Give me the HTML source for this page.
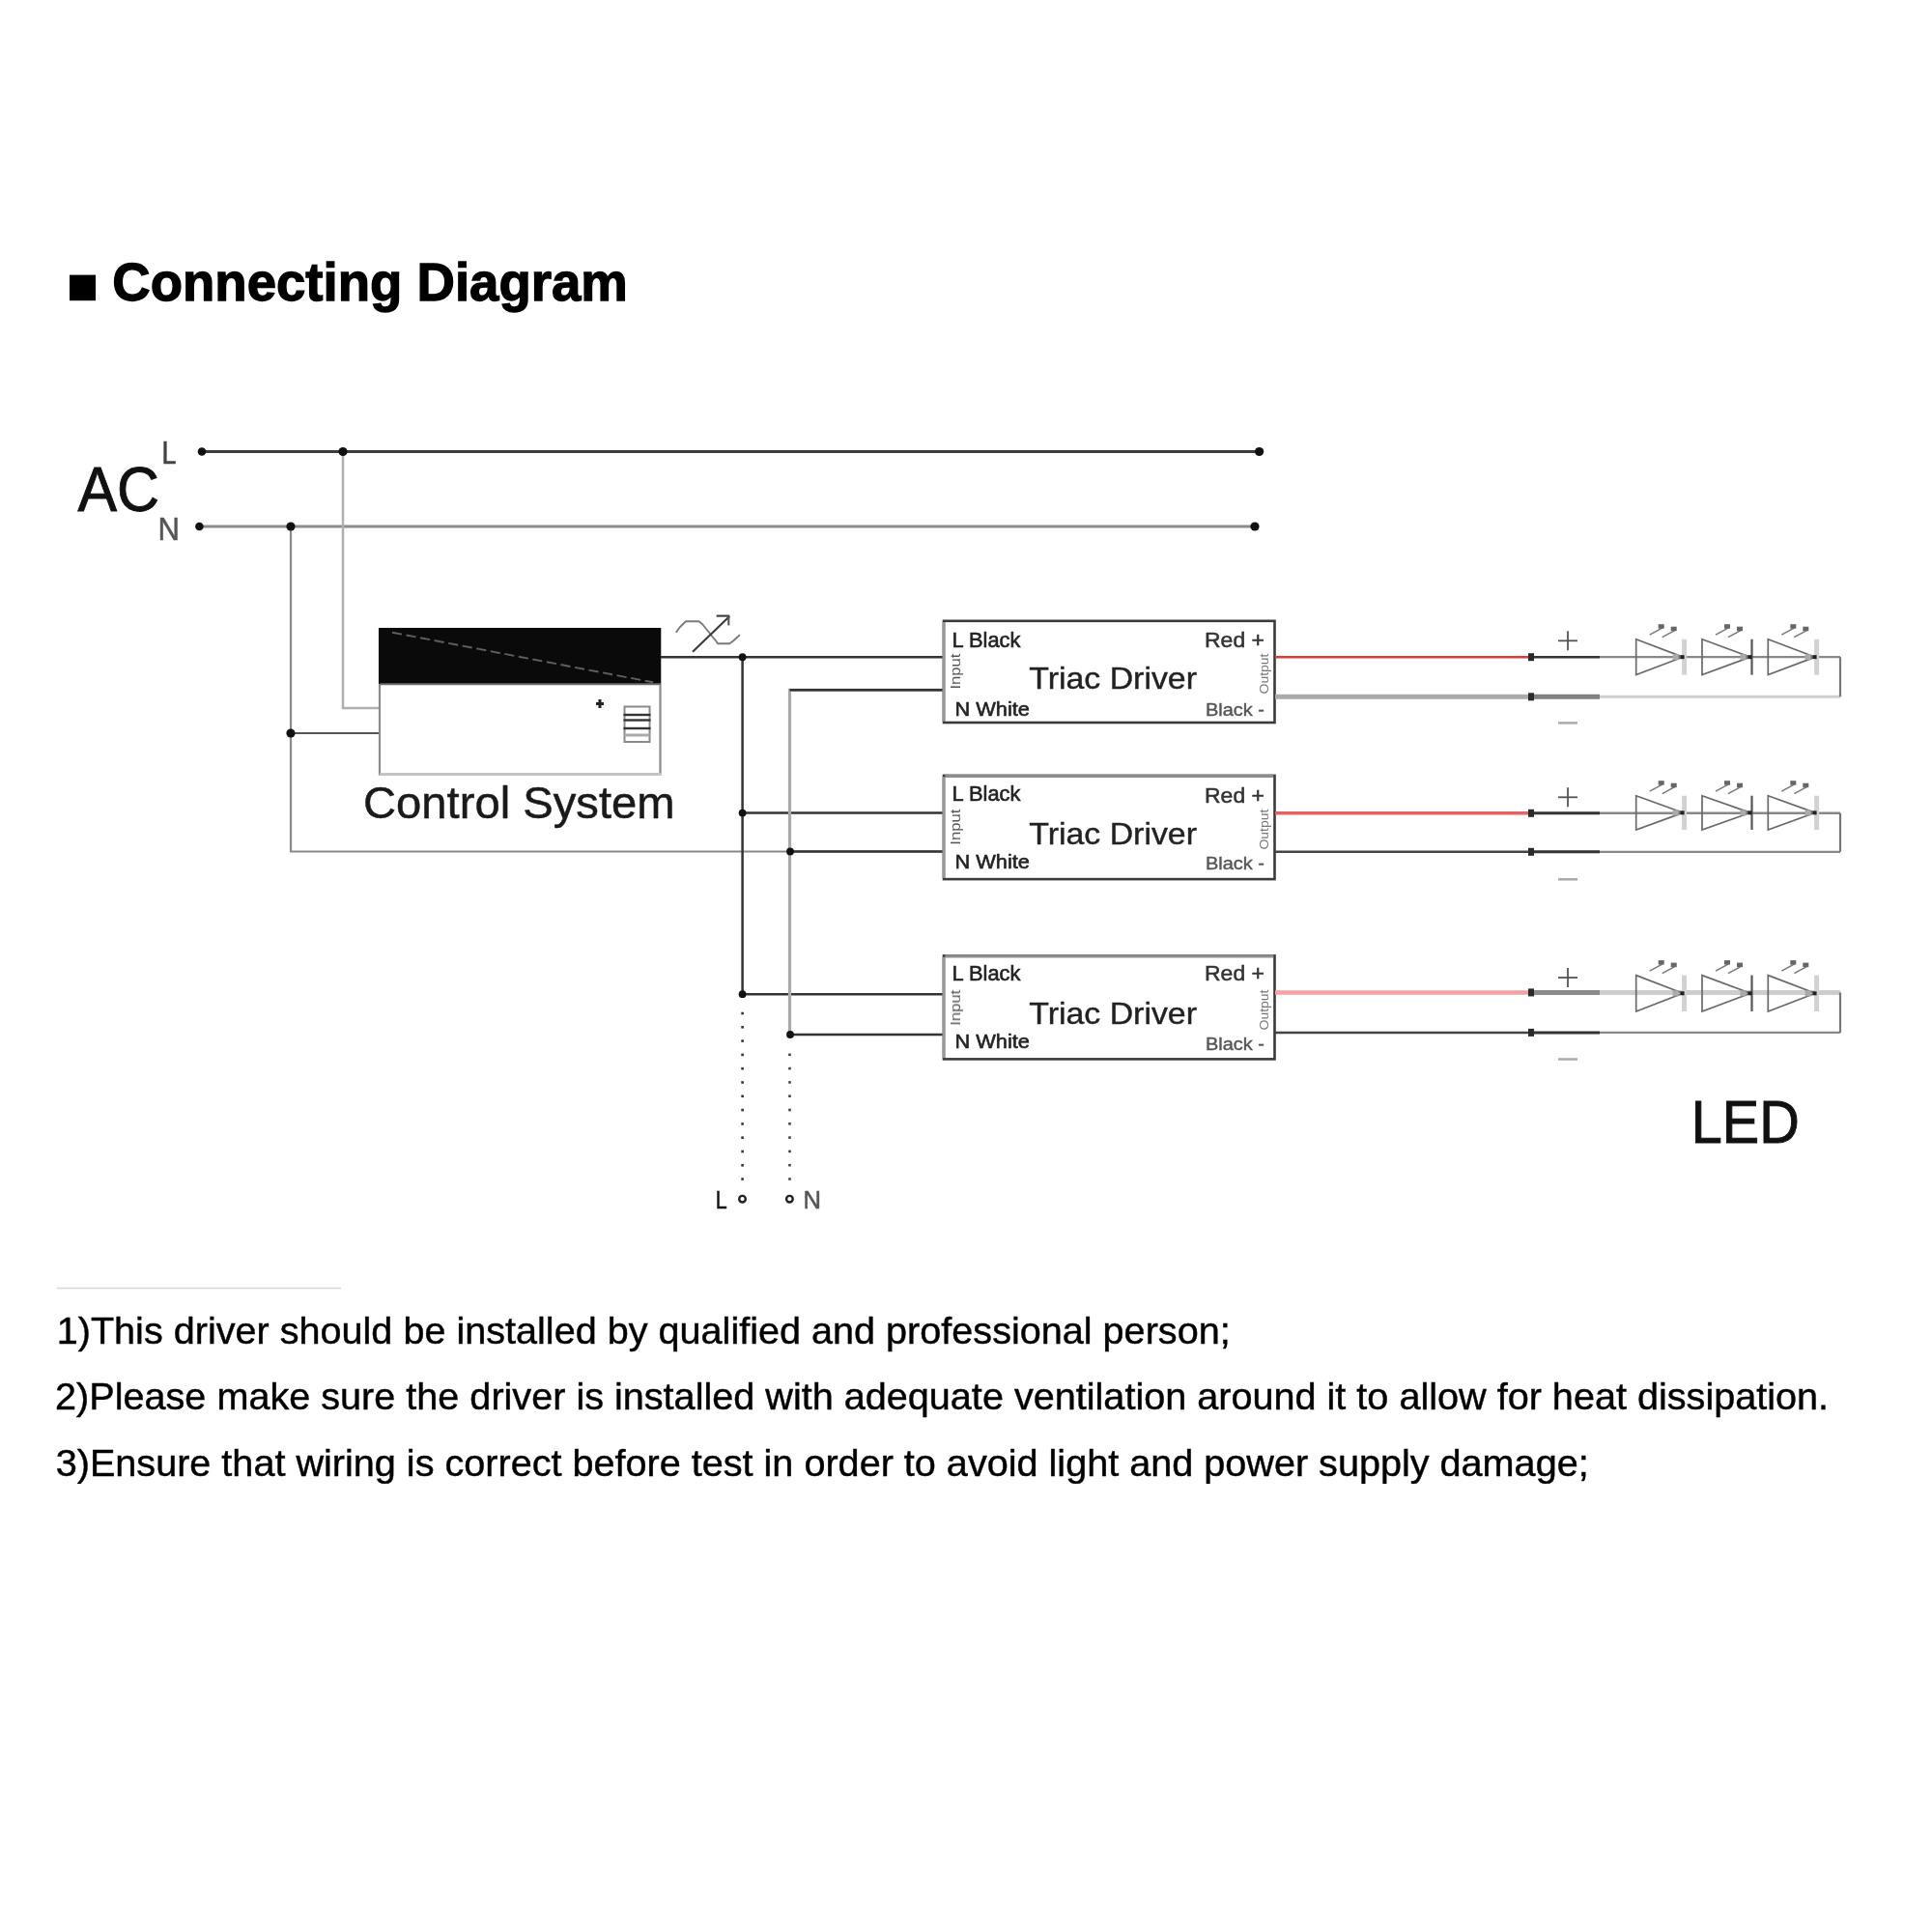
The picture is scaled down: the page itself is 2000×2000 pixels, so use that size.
<!DOCTYPE html>
<html><head><meta charset="utf-8"><style>
html,body{margin:0;padding:0;background:#fff;width:2000px;height:2000px;overflow:hidden}
svg{position:absolute;left:0;top:0;will-change:transform}
text{font-family:"Liberation Sans", sans-serif}
.t{position:absolute;left:0;top:0;white-space:nowrap;font-family:"Liberation Sans", sans-serif;color:#000}
</style></head><body>
<svg width="2000" height="2000" viewBox="0 0 2000 2000">
<rect x="72" y="284.6" width="27" height="26.6" fill="#000"/>
<text x="116.3" y="311" font-size="55.5" font-weight="bold" fill="#000" stroke="#000" stroke-width="1.3" textLength="533.5" lengthAdjust="spacingAndGlyphs">Connecting Diagram</text>
<line x1="209" y1="467.5" x2="1303.6" y2="467.5" stroke="#3c3c3c" stroke-width="3" />
<line x1="206" y1="545" x2="1299" y2="545" stroke="#8c8c8c" stroke-width="3" />
<text x="80.5" y="529" font-size="64.5" fill="#111" text-anchor="start" font-weight="normal" textLength="84.5" lengthAdjust="spacingAndGlyphs" stroke="#111" stroke-width="0.9">AC</text>
<text x="167.5" y="480" font-size="33.5" fill="#444" text-anchor="start" font-weight="normal" textLength="15" lengthAdjust="spacingAndGlyphs" stroke="#444" stroke-width="0.6">L</text>
<text x="163.5" y="559" font-size="32.5" fill="#555" text-anchor="start" font-weight="normal" textLength="22.5" lengthAdjust="spacingAndGlyphs" stroke="#555" stroke-width="0.5">N</text>
<polyline points="355,467 355,733 392.5,733" fill="none" stroke="#b0b0b0" stroke-width="2.5"/>
<polyline points="301,545 301,881.5 976,881.5" fill="none" stroke="#8a8a8a" stroke-width="2.2"/>
<line x1="301" y1="759" x2="392.5" y2="759" stroke="#555" stroke-width="2.2" />
<rect x="393" y="651" width="290.5" height="150.5" fill="#fff" stroke="#8a8a8a" stroke-width="2.2"/>
<rect x="392" y="650" width="292" height="58" fill="#0a0a0a"/>
<line x1="406" y1="654.7" x2="676" y2="706.3" stroke="#606060" stroke-width="1.9" stroke-dasharray="10.2 4.6"/>
<line x1="393" y1="708.3" x2="684" y2="708.3" stroke="#6e6e6e" stroke-width="2" />
<line x1="393" y1="801.5" x2="684" y2="801.5" stroke="#c4c4c4" stroke-width="3" />
<path d="M617,728.5 L625,728.5 M621,724 L621,733" stroke="#222" stroke-width="3"/>
<rect x="646.5" y="731.5" width="26" height="36.5" fill="none" stroke="#8a8a8a" stroke-width="2"/>
<line x1="645.5" y1="740" x2="673.5" y2="740" stroke="#333" stroke-width="2.4" />
<line x1="645.5" y1="745.5" x2="673.5" y2="745.5" stroke="#333" stroke-width="2.4" />
<line x1="645.5" y1="754" x2="673.5" y2="754" stroke="#333" stroke-width="2.4" />
<line x1="646.5" y1="761" x2="672.5" y2="761" stroke="#aaa" stroke-width="3" />
<text x="376" y="847" font-size="46.5" fill="#1a1a1a" text-anchor="start" font-weight="normal" textLength="322.6" lengthAdjust="spacingAndGlyphs" stroke="#1a1a1a" stroke-width="0.5">Control System</text>
<path d="M699.8,654.8 L704,649 L710,643.3 L723.5,643.3 L727,646 L741.5,664 L743,666.2 L755.2,666.2 L759,663.5 L765.9,657.1" fill="none" stroke="#7a7a7a" stroke-width="1.9" stroke-linejoin="round"/>
<line x1="717" y1="674.8" x2="755.2" y2="638" stroke="#3a3a3a" stroke-width="2.1" />
<line x1="741.7" y1="637.6" x2="755.2" y2="637.6" stroke="#3a3a3a" stroke-width="2.1" />
<line x1="754.3" y1="637.6" x2="754.3" y2="647.4" stroke="#555" stroke-width="2.1" />
<line x1="683.8" y1="680.2" x2="976" y2="680.2" stroke="#333" stroke-width="2.5" />
<line x1="768.6" y1="680.2" x2="768.6" y2="1029.2" stroke="#333" stroke-width="2.5" />
<line x1="768.6" y1="841.6" x2="976" y2="841.6" stroke="#333" stroke-width="2.5" />
<line x1="768.6" y1="1029.2" x2="976" y2="1029.2" stroke="#333" stroke-width="2.5" />
<polyline points="976,714.3 817.5,714.3 817.5,1071" fill="none" stroke="#aaa" stroke-width="3.2"/>
<line x1="817.5" y1="714.3" x2="976" y2="714.3" stroke="#333" stroke-width="2.5" />
<line x1="818" y1="881.5" x2="976" y2="881.5" stroke="#333" stroke-width="2.5" />
<line x1="818" y1="1071" x2="976" y2="1071" stroke="#333" stroke-width="2.5" />
<rect x="767.3" y="1047.7" width="2.6" height="2.6" fill="#333"/>
<rect x="767.3" y="1062.0" width="2.6" height="2.6" fill="#333"/>
<rect x="767.3" y="1076.3" width="2.6" height="2.6" fill="#333"/>
<rect x="767.3" y="1090.6" width="2.6" height="2.6" fill="#333"/>
<rect x="767.3" y="1104.9" width="2.6" height="2.6" fill="#333"/>
<rect x="767.3" y="1119.2" width="2.6" height="2.6" fill="#333"/>
<rect x="767.3" y="1133.5" width="2.6" height="2.6" fill="#333"/>
<rect x="767.3" y="1147.8" width="2.6" height="2.6" fill="#333"/>
<rect x="767.3" y="1162.1" width="2.6" height="2.6" fill="#333"/>
<rect x="767.3" y="1176.4" width="2.6" height="2.6" fill="#333"/>
<rect x="767.3" y="1190.7" width="2.6" height="2.6" fill="#333"/>
<rect x="767.3" y="1205.0" width="2.6" height="2.6" fill="#333"/>
<rect x="767.3" y="1219.3" width="2.6" height="2.6" fill="#333"/>
<rect x="816.2" y="1090.5" width="2.6" height="2.6" fill="#444"/>
<rect x="816.2" y="1104.8" width="2.6" height="2.6" fill="#444"/>
<rect x="816.2" y="1119.1" width="2.6" height="2.6" fill="#444"/>
<rect x="816.2" y="1133.4" width="2.6" height="2.6" fill="#444"/>
<rect x="816.2" y="1147.7" width="2.6" height="2.6" fill="#444"/>
<rect x="816.2" y="1162.0" width="2.6" height="2.6" fill="#444"/>
<rect x="816.2" y="1176.3" width="2.6" height="2.6" fill="#444"/>
<rect x="816.2" y="1190.6" width="2.6" height="2.6" fill="#444"/>
<rect x="816.2" y="1204.9" width="2.6" height="2.6" fill="#444"/>
<rect x="816.2" y="1219.2" width="2.6" height="2.6" fill="#444"/>
<circle cx="768.5" cy="1241.2" r="3.3" fill="none" stroke="#222" stroke-width="2.4"/>
<circle cx="817.4" cy="1241.2" r="3.3" fill="none" stroke="#222" stroke-width="2.4"/>
<text x="740.8" y="1251.3" font-size="25.5" fill="#111" text-anchor="start" font-weight="normal" textLength="12" lengthAdjust="spacingAndGlyphs" stroke="#111" stroke-width="0.5">L</text>
<text x="831.5" y="1251.3" font-size="25.5" fill="#555" text-anchor="start" font-weight="normal" textLength="18.5" lengthAdjust="spacingAndGlyphs" stroke="#555" stroke-width="0.5">N</text>
<rect x="977" y="642.8" width="342.5" height="105.2" fill="#fff" stroke="#3a3a3a" stroke-width="2.6"/>
<line x1="977" y1="644.0999999999999" x2="977" y2="746.7" stroke="#999" stroke-width="3" />
<text x="985.6" y="670.3" font-size="22" fill="#222" text-anchor="start" font-weight="normal" textLength="70.8" lengthAdjust="spacingAndGlyphs" stroke="#222" stroke-width="0.6">L Black</text>
<text x="1247" y="670.3" font-size="22" fill="#333" text-anchor="start" font-weight="normal" textLength="62" lengthAdjust="spacingAndGlyphs" stroke="#333" stroke-width="0.5">Red +</text>
<text x="1065.2" y="712.6" font-size="31.5" fill="#222" text-anchor="start" font-weight="normal" textLength="173.8" lengthAdjust="spacingAndGlyphs" stroke="#222" stroke-width="0.4">Triac Driver</text>
<text x="988.5" y="741.0" font-size="21" fill="#222" text-anchor="start" font-weight="normal" textLength="77.5" lengthAdjust="spacingAndGlyphs" stroke="#222" stroke-width="0.6">N White</text>
<text x="1248" y="741.0" font-size="19" fill="#555" text-anchor="start" font-weight="normal" textLength="61" lengthAdjust="spacingAndGlyphs" stroke="#555" stroke-width="0.4">Black -</text>
<text x="0" y="0" font-size="15" fill="#555" transform="translate(994,713.6) rotate(-90)" textLength="37" lengthAdjust="spacingAndGlyphs">Input</text>
<text x="0" y="0" font-size="12" fill="#777" transform="translate(1312.5,718.5) rotate(-90)" textLength="42" lengthAdjust="spacingAndGlyphs">Output</text>
<line x1="1320" y1="680.2" x2="1584" y2="680.2" stroke="#de3a3a" stroke-width="2.6" />
<line x1="1584" y1="680.2" x2="1656" y2="680.2" stroke="#333" stroke-width="2.5" />
<line x1="1656" y1="680.2" x2="1905" y2="680.2" stroke="#888" stroke-width="2.2" />
<line x1="1320" y1="721.3" x2="1584" y2="721.3" stroke="#ababab" stroke-width="5.0" />
<line x1="1584" y1="721.3" x2="1656" y2="721.3" stroke="#808080" stroke-width="5" />
<line x1="1656" y1="721.3" x2="1905" y2="721.3" stroke="#cfcfcf" stroke-width="3.0" />
<line x1="1905" y1="680.2" x2="1905" y2="721.3" stroke="#777" stroke-width="2.2" />
<line x1="1613" y1="663.3" x2="1633" y2="663.3" stroke="#555" stroke-width="1.8" />
<line x1="1623" y1="653.3" x2="1623" y2="673.3" stroke="#555" stroke-width="1.8" />
<line x1="1613" y1="748.4" x2="1633" y2="748.4" stroke="#aaa" stroke-width="2.5" />
<polygon points="1693.7,661.7 1742.1,680.1500000000001 1693.7,698.6" fill="none" stroke="#6a6a6a" stroke-width="1.7"/>
<line x1="1743.6" y1="661.7" x2="1743.6" y2="698.6" stroke="#d2d2d2" stroke-width="5" />
<rect x="1731.6" y="677.1500000000001" width="6" height="6" fill="#aaa"/>
<rect x="1739.6" y="678.1500000000001" width="4" height="4" fill="#222"/>
<line x1="1707.7" y1="657.2" x2="1720.7" y2="650.2" stroke="#777" stroke-width="1.5" />
<line x1="1720.7" y1="659.7" x2="1733.7" y2="652.7" stroke="#777" stroke-width="1.5" />
<rect x="1716.7" y="646.2" width="6" height="4.5" fill="#666"/>
<rect x="1729.7" y="648.7" width="6" height="4.5" fill="#666"/>
<polygon points="1762,661.7 1812.0,680.1500000000001 1762,698.6" fill="none" stroke="#6a6a6a" stroke-width="1.7"/>
<line x1="1813.5" y1="661.7" x2="1813.5" y2="698.6" stroke="#555" stroke-width="2.2" />
<rect x="1801.5" y="677.1500000000001" width="6" height="6" fill="#aaa"/>
<rect x="1809.5" y="678.1500000000001" width="4" height="4" fill="#222"/>
<line x1="1776" y1="657.2" x2="1789" y2="650.2" stroke="#777" stroke-width="1.5" />
<line x1="1789" y1="659.7" x2="1802" y2="652.7" stroke="#777" stroke-width="1.5" />
<rect x="1785" y="646.2" width="6" height="4.5" fill="#666"/>
<rect x="1798" y="648.7" width="6" height="4.5" fill="#666"/>
<polygon points="1830.3,661.7 1879.1,680.1500000000001 1830.3,698.6" fill="none" stroke="#6a6a6a" stroke-width="1.7"/>
<line x1="1880.6" y1="661.7" x2="1880.6" y2="698.6" stroke="#d2d2d2" stroke-width="5" />
<rect x="1868.6" y="677.1500000000001" width="6" height="6" fill="#aaa"/>
<rect x="1876.6" y="678.1500000000001" width="4" height="4" fill="#222"/>
<line x1="1844.3" y1="657.2" x2="1857.3" y2="650.2" stroke="#777" stroke-width="1.5" />
<line x1="1857.3" y1="659.7" x2="1870.3" y2="652.7" stroke="#777" stroke-width="1.5" />
<rect x="1853.3" y="646.2" width="6" height="4.5" fill="#666"/>
<rect x="1866.3" y="648.7" width="6" height="4.5" fill="#666"/>
<rect x="977" y="802.9" width="342.5" height="107.2" fill="#fff" stroke="#3a3a3a" stroke-width="2.6"/>
<line x1="977" y1="804.1999999999999" x2="977" y2="908.8000000000001" stroke="#999" stroke-width="3" />
<line x1="978.3" y1="803.4" x2="1318.3" y2="803.4" stroke="#8e8e8e" stroke-width="3.2" />
<text x="985.6" y="829.4" font-size="22" fill="#222" text-anchor="start" font-weight="normal" textLength="70.8" lengthAdjust="spacingAndGlyphs" stroke="#222" stroke-width="0.6">L Black</text>
<text x="1247" y="831.4" font-size="22" fill="#333" text-anchor="start" font-weight="normal" textLength="62" lengthAdjust="spacingAndGlyphs" stroke="#333" stroke-width="0.5">Red +</text>
<text x="1065.2" y="873.7" font-size="31.5" fill="#222" text-anchor="start" font-weight="normal" textLength="173.8" lengthAdjust="spacingAndGlyphs" stroke="#222" stroke-width="0.4">Triac Driver</text>
<text x="988.5" y="899.2" font-size="21" fill="#222" text-anchor="start" font-weight="normal" textLength="77.5" lengthAdjust="spacingAndGlyphs" stroke="#222" stroke-width="0.6">N White</text>
<text x="1248" y="900.2" font-size="19" fill="#555" text-anchor="start" font-weight="normal" textLength="61" lengthAdjust="spacingAndGlyphs" stroke="#555" stroke-width="0.4">Black -</text>
<text x="0" y="0" font-size="15" fill="#555" transform="translate(994,874.7) rotate(-90)" textLength="37" lengthAdjust="spacingAndGlyphs">Input</text>
<text x="0" y="0" font-size="12" fill="#777" transform="translate(1312.5,879.6) rotate(-90)" textLength="42" lengthAdjust="spacingAndGlyphs">Output</text>
<line x1="1320" y1="841.8" x2="1584" y2="841.8" stroke="#e36464" stroke-width="3.4" />
<line x1="1584" y1="841.8" x2="1656" y2="841.8" stroke="#333" stroke-width="3.0" />
<line x1="1656" y1="841.8" x2="1905" y2="841.8" stroke="#888" stroke-width="2.4" />
<line x1="1320" y1="881.8" x2="1584" y2="881.8" stroke="#444" stroke-width="2.5" />
<line x1="1584" y1="881.8" x2="1656" y2="881.8" stroke="#333" stroke-width="3" />
<line x1="1656" y1="881.8" x2="1905" y2="881.8" stroke="#888" stroke-width="2.2" />
<line x1="1905" y1="841.8" x2="1905" y2="881.8" stroke="#777" stroke-width="2.2" />
<line x1="1613" y1="825.3" x2="1633" y2="825.3" stroke="#555" stroke-width="1.8" />
<line x1="1623" y1="815.3" x2="1623" y2="835.3" stroke="#555" stroke-width="1.8" />
<line x1="1613" y1="910.3" x2="1633" y2="910.3" stroke="#aaa" stroke-width="2.5" />
<polygon points="1693.7,823.7 1742.1,841.35 1693.7,859.0" fill="none" stroke="#6a6a6a" stroke-width="1.7"/>
<line x1="1743.6" y1="823.7" x2="1743.6" y2="859.0" stroke="#d2d2d2" stroke-width="5" />
<rect x="1731.6" y="838.35" width="6" height="6" fill="#aaa"/>
<rect x="1739.6" y="839.35" width="4" height="4" fill="#222"/>
<line x1="1707.7" y1="819.2" x2="1720.7" y2="812.2" stroke="#777" stroke-width="1.5" />
<line x1="1720.7" y1="821.7" x2="1733.7" y2="814.7" stroke="#777" stroke-width="1.5" />
<rect x="1716.7" y="808.2" width="6" height="4.5" fill="#666"/>
<rect x="1729.7" y="810.7" width="6" height="4.5" fill="#666"/>
<polygon points="1762,823.7 1812.0,841.35 1762,859.0" fill="none" stroke="#6a6a6a" stroke-width="1.7"/>
<line x1="1813.5" y1="823.7" x2="1813.5" y2="859.0" stroke="#555" stroke-width="2.2" />
<rect x="1801.5" y="838.35" width="6" height="6" fill="#aaa"/>
<rect x="1809.5" y="839.35" width="4" height="4" fill="#222"/>
<line x1="1776" y1="819.2" x2="1789" y2="812.2" stroke="#777" stroke-width="1.5" />
<line x1="1789" y1="821.7" x2="1802" y2="814.7" stroke="#777" stroke-width="1.5" />
<rect x="1785" y="808.2" width="6" height="4.5" fill="#666"/>
<rect x="1798" y="810.7" width="6" height="4.5" fill="#666"/>
<polygon points="1830.3,823.7 1879.1,841.35 1830.3,859.0" fill="none" stroke="#6a6a6a" stroke-width="1.7"/>
<line x1="1880.6" y1="823.7" x2="1880.6" y2="859.0" stroke="#d2d2d2" stroke-width="5" />
<rect x="1868.6" y="838.35" width="6" height="6" fill="#aaa"/>
<rect x="1876.6" y="839.35" width="4" height="4" fill="#222"/>
<line x1="1844.3" y1="819.2" x2="1857.3" y2="812.2" stroke="#777" stroke-width="1.5" />
<line x1="1857.3" y1="821.7" x2="1870.3" y2="814.7" stroke="#777" stroke-width="1.5" />
<rect x="1853.3" y="808.2" width="6" height="4.5" fill="#666"/>
<rect x="1866.3" y="810.7" width="6" height="4.5" fill="#666"/>
<rect x="977" y="989.4" width="342.5" height="107.0" fill="#fff" stroke="#3a3a3a" stroke-width="2.6"/>
<line x1="977" y1="990.6999999999999" x2="977" y2="1095.1000000000001" stroke="#999" stroke-width="3" />
<line x1="978.3" y1="989.9" x2="1318.3" y2="989.9" stroke="#8e8e8e" stroke-width="3.2" />
<text x="985.6" y="1015.4" font-size="22" fill="#222" text-anchor="start" font-weight="normal" textLength="70.8" lengthAdjust="spacingAndGlyphs" stroke="#222" stroke-width="0.6">L Black</text>
<text x="1247" y="1015.4" font-size="22" fill="#333" text-anchor="start" font-weight="normal" textLength="62" lengthAdjust="spacingAndGlyphs" stroke="#333" stroke-width="0.5">Red +</text>
<text x="1065.2" y="1060.3" font-size="31.5" fill="#222" text-anchor="start" font-weight="normal" textLength="173.8" lengthAdjust="spacingAndGlyphs" stroke="#222" stroke-width="0.4">Triac Driver</text>
<text x="988.5" y="1085.2" font-size="21" fill="#222" text-anchor="start" font-weight="normal" textLength="77.5" lengthAdjust="spacingAndGlyphs" stroke="#222" stroke-width="0.6">N White</text>
<text x="1248" y="1087.2" font-size="19" fill="#555" text-anchor="start" font-weight="normal" textLength="61" lengthAdjust="spacingAndGlyphs" stroke="#555" stroke-width="0.4">Black -</text>
<text x="0" y="0" font-size="15" fill="#555" transform="translate(994,1061.6) rotate(-90)" textLength="37" lengthAdjust="spacingAndGlyphs">Input</text>
<text x="0" y="0" font-size="12" fill="#777" transform="translate(1312.5,1066.5) rotate(-90)" textLength="42" lengthAdjust="spacingAndGlyphs">Output</text>
<line x1="1320" y1="1027.4" x2="1584" y2="1027.4" stroke="#f2a2a2" stroke-width="4.5" />
<line x1="1584" y1="1027.4" x2="1656" y2="1027.4" stroke="#8a8a8a" stroke-width="5.0" />
<line x1="1656" y1="1027.4" x2="1905" y2="1027.4" stroke="#cdcdcd" stroke-width="5.0" />
<line x1="1320" y1="1068.9" x2="1584" y2="1068.9" stroke="#444" stroke-width="2.5" />
<line x1="1584" y1="1068.9" x2="1656" y2="1068.9" stroke="#333" stroke-width="3" />
<line x1="1656" y1="1068.9" x2="1905" y2="1068.9" stroke="#888" stroke-width="2.2" />
<line x1="1905" y1="1027.4" x2="1905" y2="1068.9" stroke="#777" stroke-width="2.2" />
<line x1="1613" y1="1012.0" x2="1633" y2="1012.0" stroke="#555" stroke-width="1.8" />
<line x1="1623" y1="1002.0" x2="1623" y2="1022.0" stroke="#555" stroke-width="1.8" />
<line x1="1613" y1="1096.5" x2="1633" y2="1096.5" stroke="#aaa" stroke-width="2.5" />
<polygon points="1693.7,1009.6 1742.1,1028.3 1693.7,1047.0" fill="none" stroke="#6a6a6a" stroke-width="1.7"/>
<line x1="1743.6" y1="1009.6" x2="1743.6" y2="1047.0" stroke="#d2d2d2" stroke-width="5" />
<rect x="1731.6" y="1025.3" width="6" height="6" fill="#aaa"/>
<rect x="1739.6" y="1026.3" width="4" height="4" fill="#222"/>
<line x1="1707.7" y1="1005.1" x2="1720.7" y2="998.1" stroke="#777" stroke-width="1.5" />
<line x1="1720.7" y1="1007.6" x2="1733.7" y2="1000.6" stroke="#777" stroke-width="1.5" />
<rect x="1716.7" y="994.1" width="6" height="4.5" fill="#666"/>
<rect x="1729.7" y="996.6" width="6" height="4.5" fill="#666"/>
<polygon points="1762,1009.6 1812.0,1028.3 1762,1047.0" fill="none" stroke="#6a6a6a" stroke-width="1.7"/>
<line x1="1813.5" y1="1009.6" x2="1813.5" y2="1047.0" stroke="#555" stroke-width="2.2" />
<rect x="1801.5" y="1025.3" width="6" height="6" fill="#aaa"/>
<rect x="1809.5" y="1026.3" width="4" height="4" fill="#222"/>
<line x1="1776" y1="1005.1" x2="1789" y2="998.1" stroke="#777" stroke-width="1.5" />
<line x1="1789" y1="1007.6" x2="1802" y2="1000.6" stroke="#777" stroke-width="1.5" />
<rect x="1785" y="994.1" width="6" height="4.5" fill="#666"/>
<rect x="1798" y="996.6" width="6" height="4.5" fill="#666"/>
<polygon points="1830.3,1009.6 1879.1,1028.3 1830.3,1047.0" fill="none" stroke="#6a6a6a" stroke-width="1.7"/>
<line x1="1880.6" y1="1009.6" x2="1880.6" y2="1047.0" stroke="#d2d2d2" stroke-width="5" />
<rect x="1868.6" y="1025.3" width="6" height="6" fill="#aaa"/>
<rect x="1876.6" y="1026.3" width="4" height="4" fill="#222"/>
<line x1="1844.3" y1="1005.1" x2="1857.3" y2="998.1" stroke="#777" stroke-width="1.5" />
<line x1="1857.3" y1="1007.6" x2="1870.3" y2="1000.6" stroke="#777" stroke-width="1.5" />
<rect x="1853.3" y="994.1" width="6" height="4.5" fill="#666"/>
<rect x="1866.3" y="996.6" width="6" height="4.5" fill="#666"/>
<text x="1750.8" y="1182.8" font-size="63.5" fill="#111" text-anchor="start" font-weight="normal" textLength="112" lengthAdjust="spacingAndGlyphs" stroke="#111" stroke-width="1">LED</text>
<circle cx="209" cy="467.5" r="4.3" fill="#111"/>
<circle cx="355" cy="467.5" r="4.6" fill="#111"/>
<circle cx="1303.6" cy="467.5" r="4.6" fill="#111"/>
<circle cx="206.4" cy="545" r="4.3" fill="#111"/>
<circle cx="301" cy="545" r="4.6" fill="#111"/>
<circle cx="1299" cy="545" r="4.6" fill="#111"/>
<circle cx="301" cy="759" r="4.6" fill="#111"/>
<circle cx="768.6" cy="680.2" r="3.9" fill="#111"/>
<circle cx="768.6" cy="841.6" r="3.9" fill="#111"/>
<circle cx="768.6" cy="1029.2" r="3.9" fill="#111"/>
<circle cx="818" cy="881.5" r="3.9" fill="#111"/>
<circle cx="818" cy="1071" r="3.9" fill="#111"/>
<rect x="1582" y="676.2" width="6" height="8" fill="#2a2a2a"/>
<rect x="1582" y="717.3" width="6" height="8" fill="#2a2a2a"/>
<rect x="1582" y="837.8" width="6" height="8" fill="#2a2a2a"/>
<rect x="1582" y="877.8" width="6" height="8" fill="#2a2a2a"/>
<rect x="1582" y="1023.4000000000001" width="6" height="8" fill="#2a2a2a"/>
<rect x="1582" y="1064.9" width="6" height="8" fill="#2a2a2a"/>
<line x1="59" y1="1333.5" x2="353" y2="1333.5" stroke="#d6d6d6" stroke-width="1.5"/>
<text x="58.7" y="1390.5" font-size="39.6" fill="#000" stroke="#000" stroke-width="0.45" textLength="1215" lengthAdjust="spacingAndGlyphs">1)This driver should be installed by qualified and professional person;</text>
<text x="57.1" y="1459.2" font-size="39.6" fill="#000" stroke="#000" stroke-width="0.45" textLength="1836" lengthAdjust="spacingAndGlyphs">2)Please make sure the driver is installed with adequate ventilation around it to allow for heat dissipation.</text>
<text x="57.7" y="1527.5" font-size="39.6" fill="#000" stroke="#000" stroke-width="0.45" textLength="1587" lengthAdjust="spacingAndGlyphs">3)Ensure that wiring is correct before test in order to avoid light and power supply damage;</text>
</svg>
</body></html>
